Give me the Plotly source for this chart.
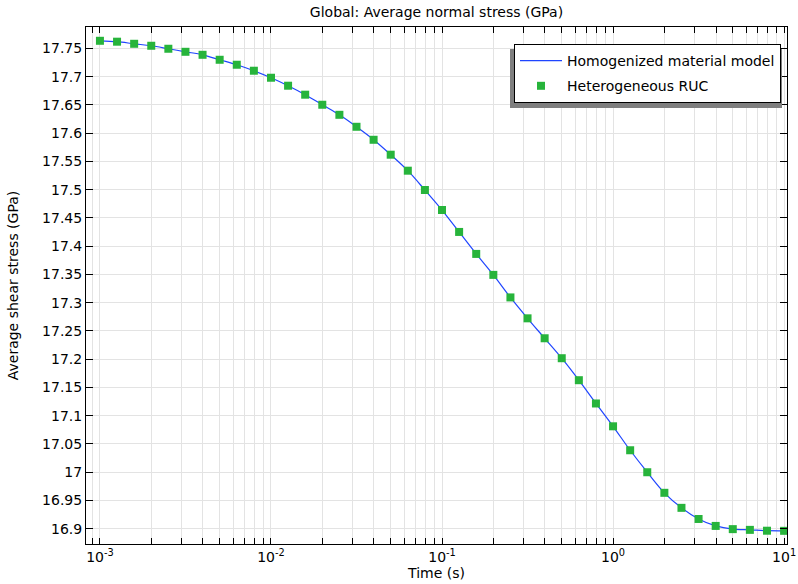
import plotly.graph_objects as go

# Time values (s), log-spaced, 10 per decade
time_s = [0.001, 0.00125893, 0.00158489, 0.00199526, 0.00251189, 0.00316228, 0.00398107,
          0.00501187, 0.00630957, 0.00794328,
          0.01, 0.0125893, 0.0158489, 0.0199526, 0.0251189, 0.0316228, 0.0398107,
          0.0501187, 0.0630957, 0.0794328,
          0.1, 0.125893, 0.158489, 0.199526, 0.251189, 0.316228, 0.398107,
          0.501187, 0.630957, 0.794328,
          1.0, 1.25893, 1.58489, 1.99526, 2.51189, 3.16228, 3.98107,
          5.01187, 6.30957, 7.94328, 10.0]

# Average shear stress (GPa)
homogenized = [17.7636, 17.7620, 17.7583, 17.7548, 17.7495, 17.7441, 17.7388, 17.7300,
               17.7212, 17.7106, 17.6982, 17.6841, 17.6682, 17.6504, 17.6326, 17.6114,
               17.5884, 17.5620, 17.5337, 17.4995, 17.4641, 17.4253, 17.3864, 17.3493,
               17.3094, 17.2724, 17.2371, 17.2018, 17.1629, 17.1217, 17.0813, 17.0389,
               17.0000, 16.9636, 16.9370, 16.9173, 16.9050, 16.8993, 16.8980, 16.8965,
               16.8963]
heterogeneous = list(homogenized)

y_tickvals = [16.9, 16.95, 17.0, 17.05, 17.1, 17.15, 17.2, 17.25, 17.3, 17.35, 17.4,
              17.45, 17.5, 17.55, 17.6, 17.65, 17.7, 17.75]
y_ticktext = ["16.9", "16.95", "17", "17.05", "17.1", "17.15", "17.2", "17.25", "17.3",
              "17.35", "17.4", "17.45", "17.5", "17.55", "17.6", "17.65", "17.7", "17.75"]
x_tickvals = [0.001, 0.01, 0.1, 1, 10]
x_ticktext = ["10<sup>-3</sup>", "10<sup>-2</sup>", "10<sup>-1</sup>", "10<sup>0</sup>",
              "10<sup>1</sup>"]

FONT = "DejaVu Sans"
GRID = "#e3e3e3"
L, R, T, B = 86, 787, 27, 544
PW, PH = R - L, B - T

fig = go.Figure()
fig.add_trace(go.Scatter(
    x=time_s, y=homogenized, mode="lines", name="Homogenized material model",
    legendgroup="a",
    line=dict(color="#1f45ff", width=1.2, shape="spline"),
))
fig.add_trace(go.Scatter(
    x=time_s, y=heterogeneous, mode="markers", name="Heterogeneous RUC",
    legendgroup="b",
    marker=dict(symbol="square", size=8, color="#27b43b", line=dict(width=0)),
))

# legend drop shadow
fig.add_shape(type="rect", xref="paper", yref="paper",
              x0=(510 - L) / PW, x1=(782 - L) / PW,
              y0=(B - 108) / PH, y1=(B - 49) / PH,
              fillcolor="#7f7f7f", line=dict(width=0), layer="above")

fig.update_layout(
    width=798, height=584,
    margin=dict(l=L, r=798 - R, t=T, b=584 - B),
    paper_bgcolor="white", plot_bgcolor="white",
    font=dict(family=FONT, size=14, color="black"),
    title=dict(text="Global: Average normal stress (GPa)", x=(L + R) / 2 / 798,
               xanchor="center", y=1 - 12 / 584, yanchor="middle",
               font=dict(family=FONT, size=14, color="black")),
    showlegend=True,
    legend=dict(x=(514 - L) / PW, y=(B - 44) / PH, xanchor="left", yanchor="top",
                bgcolor="white", bordercolor="black", borderwidth=1,
                font=dict(family=FONT, size=14), traceorder="grouped",
                tracegroupgap=4, itemwidth=42),
    xaxis=dict(
        type="log", range=[-3.0815, 1.017], automargin=False,
        title=dict(text="Time (s)", standoff=2, font=dict(size=14)),
        tickvals=x_tickvals, ticktext=x_ticktext,
        showline=True, linecolor="black", linewidth=1, mirror="ticks",
        ticks="inside", ticklen=6, tickcolor="black",
        showgrid=True, gridcolor=GRID, gridwidth=1, zeroline=False,
        minor=dict(ticks="inside", ticklen=6, tickcolor="black", showgrid=True,
                   gridcolor=GRID, gridwidth=1, dtick="D1"),
    ),
    yaxis=dict(
        range=[16.873, 17.788], automargin=False,
        title=dict(text="Average shear stress (GPa)", standoff=20, font=dict(size=14)),
        tickvals=y_tickvals, ticktext=y_ticktext,
        showline=True, linecolor="black", linewidth=1, mirror="ticks",
        ticks="inside", ticklen=7, tickcolor="black",
        showgrid=True, gridcolor=GRID, gridwidth=1, zeroline=False,
    ),
)

fig.write_html("out.html")
